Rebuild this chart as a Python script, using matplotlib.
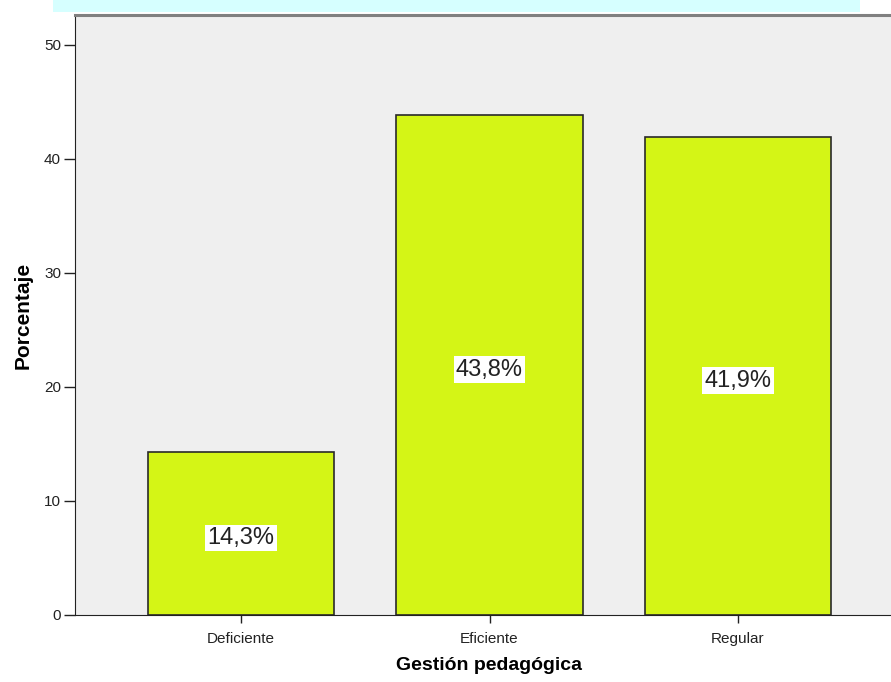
import matplotlib
matplotlib.use("Agg")
import matplotlib.pyplot as plt
from matplotlib.patches import Rectangle

categories = ["Deficiente", "Eficiente", "Regular"]
percentages = [14.3, 43.8, 41.9]
value_labels = ["14,3%", "43,8%", "41,9%"]
y_ticks = [0, 10, 20, 30, 40, 50]

plt.rcParams["font.family"] = ["Liberation Sans", "DejaVu Sans"]

fig = plt.figure(figsize=(8.91, 6.82), dpi=100)
fig.patch.set_facecolor("white")

# light banner strip along the top edge
fig.patches.append(Rectangle((0.06, 0.983), 0.905, 0.017, transform=fig.transFigure,
                             facecolor="#d6ffff", edgecolor="none", zorder=0))

ax = fig.add_axes([75 / 891, 67 / 682, 829 / 891, 600 / 682])
ax.set_facecolor("#efefef")

x = list(range(len(categories)))
bars = ax.bar(x, percentages, width=0.75, color="#d4f516", edgecolor="#2a2a2a",
              linewidth=1.2, zorder=2)

for xi, val, lab in zip(x, percentages, value_labels):
    ax.text(xi, val / 2 - 0.4, lab, ha="center", va="center", fontsize=17,
            color="#222222", zorder=3,
            bbox=dict(boxstyle="square,pad=0.1", facecolor="white", edgecolor="none"))

ax.set_xlim(-0.668, 2.668)
ax.set_ylim(0, 52.6)
ax.set_xticks(x)
ax.set_xticklabels(categories, fontsize=11)
ax.set_yticks(y_ticks)
ax.set_yticklabels([str(t) for t in y_ticks], fontsize=11)
ax.tick_params(axis="y", direction="out", length=8, width=1, pad=2, colors="#222222")
ax.tick_params(axis="x", direction="out", length=6, width=1, pad=6, colors="#222222")

ax.spines["right"].set_visible(False)
ax.spines["left"].set_color("#222222")
ax.spines["bottom"].set_color("#222222")
ax.spines["top"].set_color("#808080")
ax.spines["top"].set_linewidth(2.2)

ax.set_ylabel("Porcentaje", fontsize=15, fontweight="bold", labelpad=8)
ax.set_xlabel("Gestión pedagógica", fontsize=14, fontweight="bold", labelpad=8)

fig.savefig("out.png", dpi=100)
